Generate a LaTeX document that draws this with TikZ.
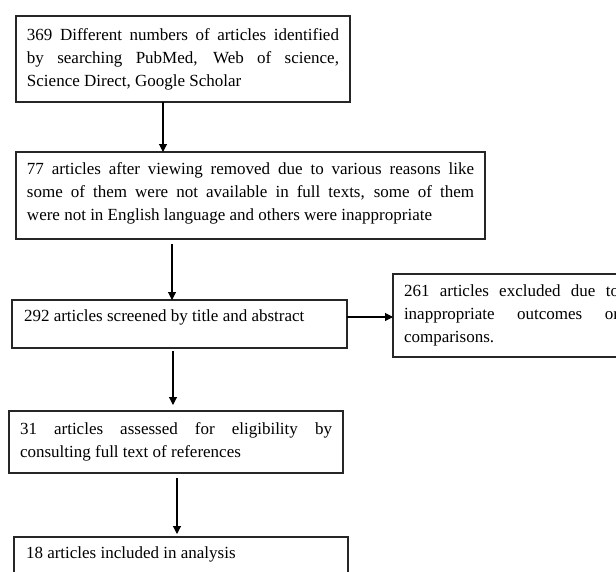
\documentclass[tikz,border=0pt]{standalone}
\usepackage{fontspec}
\setmainfont{Liberation Serif}
\usetikzlibrary{arrows.meta}
\newcommand\bxtext[4]{\parbox[t][#2][t]{#1}{\rule{0pt}{#3}#4}}
\begin{document}
\begin{tikzpicture}[x=1pt,y=-1pt,
  box/.style={draw=black!85, line width=1.1pt, anchor=north west, inner ysep=0pt,
    inner xsep=11pt, outer sep=0pt, font=\fontsize{17}{23}\selectfont},
  arr/.style={draw=black, line width=1.1pt, -{Triangle[length=8pt,width=8pt]}}]
\useasboundingbox (0,0) rectangle (616,571);
\node[box] (b1) at (16,16) {\bxtext{312pt}{86pt}{24pt}{369 Different numbers of articles identified\linebreak by searching PubMed, Web of science,\linebreak Science Direct, Google Scholar}};
\node[box] (b2) at (16,152) {\bxtext{447pt}{87pt}{22pt}{77 articles after viewing removed due to various reasons like\linebreak some of them were not available in full texts, some of them\linebreak were not in English language and others were inappropriate}};
\node[box, inner xsep=12pt] (b3) at (12,300) {\bxtext{311pt}{48pt}{21pt}{292 articles screened by title and abstract}};
\node[box] (b4) at (393,274) {\bxtext{215pt}{83pt}{22pt}{261 articles excluded due to\linebreak inappropriate outcomes or\linebreak comparisons.}};
\node[box] (b5) at (9,411) {\bxtext{312pt}{62pt}{23pt}{31 articles assessed for eligibility by\linebreak consulting full text of references}};
\node[box, inner xsep=12pt] (b6) at (14,537) {\bxtext{310pt}{60pt}{21pt}{18 articles included in analysis}};
\coordinate (c1) at (163,0);
\coordinate (c2) at (172,0);
\coordinate (c3) at (0,317);
\coordinate (c4) at (173,0);
\coordinate (c5) at (177,0);
\draw[arr] (b1.south -| c1) -- (b2.north -| c1);
\draw[arr, shorten <=5pt] (b2.south -| c2) -- (b3.north -| c2);
\draw[arr] (b3.east |- c3) -- (b4.west |- c3);
\draw[arr, shorten <=3pt, shorten >=6pt] (b3.south -| c4) -- (b5.north -| c4);
\draw[arr, shorten <=5pt, shorten >=3pt] (b5.south -| c5) -- (b6.north -| c5);
\end{tikzpicture}
\end{document}
